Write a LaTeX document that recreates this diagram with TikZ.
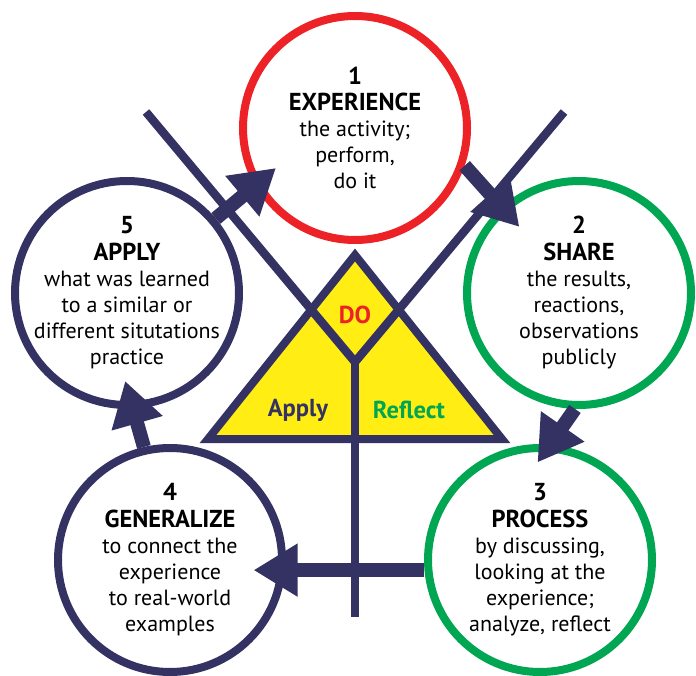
\documentclass[tikz,border=0pt]{standalone}
\usepackage{fontspec}
\setmainfont{PT Sans}
\usetikzlibrary{arrows.meta}
\definecolor{navy}{RGB}{51,50,98}
\definecolor{ringred}{RGB}{237,34,38}
\definecolor{ringgreen}{RGB}{0,166,81}
\definecolor{yolk}{RGB}{255,237,20}
\newcommand{\headword}[1]{{\fontsize{24.5}{26.2}\selectfont\bfseries #1}}
\begin{document}
\begin{tikzpicture}[x=1pt,y=-1pt,
    stage/.style={circle,draw=#1,line width=8pt,minimum size=224pt,inner sep=0pt},
    stagetext/.style={align=center,inner sep=0pt,font=\fontsize{22}{26.2}\selectfont},
    flow/.style={draw=navy,line width=14pt,shorten >=-#1,-{Triangle[width=50pt,length=44pt]}},
    word/.style={font=\fontsize{24.5}{26}\selectfont\bfseries}]
    \useasboundingbox (0,0) rectangle (696,676);
    % the triangle with the Y
    \filldraw[fill=yolk, draw=navy, line width=8pt, line join=miter] (355,255) -- (208,439) -- (502,439) -- cycle;
    \coordinate (fork) at (355,362);
    \draw[navy, line width=8.5pt] (146,112) -- (fork) -- (564,112);
    \draw[navy, line width=8.5pt] (fork) -- (355,617);
    \node[word, text=ringred] (do) at (355,315) {DO};
    \node[word, text=navy] (apply) at (298,410) {Apply};
    \node[word, text=ringgreen] (reflect) at (409,410) {Reflect};
    % the five stages
    \node[stage=ringred] (c1) at (355,128) {};
    \node[stage=ringgreen] (c2) at (579,293) {};
    \node[stage=ringgreen] (c3) at (540,560) {};
    \node[stage=navy] (c4) at (170,560) {};
    \node[stage=navy] (c5) at (127,293) {};
    \node[stagetext] (t1) at (c1) {\headword{1}\\\headword{EXPERIENCE}\\the activity;\\perform,\\do it};
    \node[stagetext] (t2) at (c2) {\headword{2}\\\headword{SHARE}\\the results,\\reactions,\\observations\\publicly};
    \node[stagetext] (t3) at (c3) {\headword{3}\\\headword{PROCESS}\\by discussing,\\looking at the\\experience;\\analyze, reflect};
    \node[stagetext] (t4) at (c4) {\headword{4}\\\headword{GENERALIZE}\\to connect the\\experience\\to real-world\\examples};
    \node[stagetext] (t5) at (c5) {\headword{5}\\\headword{APPLY}\\what was learned\\to a similar or\\different situtations\\practice};
    % the cycle
    \draw[flow=27pt] (c1.-19) -- (c2.132);
    \draw[flow=22pt] (c2.-92) -- (c3.85);
    \draw[flow=32pt] (c3.185) -- (c4.-5);
    \draw[flow=29pt] (c4.103) -- (c5.-87);
    \draw[flow=28pt] (c5.40) -- (c1.210);
\end{tikzpicture}
\end{document}
